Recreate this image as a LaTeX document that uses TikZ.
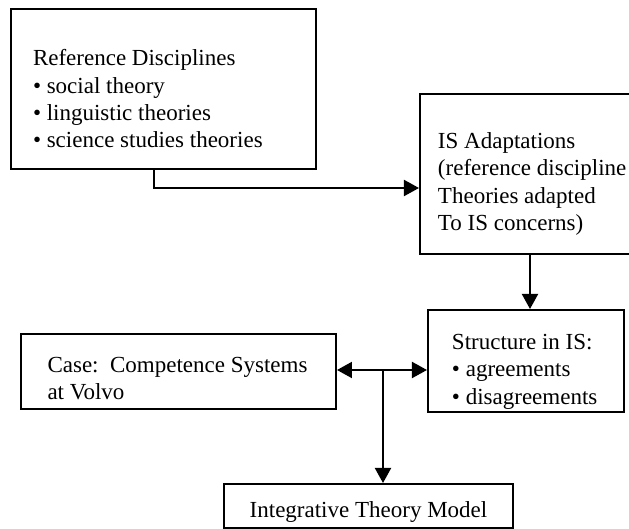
\documentclass[tikz,border=0pt]{standalone}
\usepackage{fontspec}
\setmainfont{Liberation Serif}
\usetikzlibrary{arrows.meta}
\newcommand{\lift}[1]{\rule{0pt}{#1}}
\tikzset{
    box/.style={draw,anchor=north west,inner sep=0pt,align=flush left,font=\fontsize{11.5}{13.7}\selectfont},
}
\begin{document}
\begin{tikzpicture}[x=0.5pt,y=-0.5pt,line width=1pt,>={Triangle[length=7.5pt,width=8pt]}]
    \useasboundingbox (0,0) rectangle (629,529);
    \clip (0,0) rectangle (629,529);
    \node[box,minimum width=152.5pt,minimum height=80pt,text width=130.5pt] (refdisc) at (10,8)
        {\lift{17.9pt}Reference Disciplines\\•~social theory\\•~linguistic theories\\•~science studies theories};
    \node[box,minimum width=120pt,minimum height=80pt,text width=102pt] (isadapt) at (419,93)
        {\lift{17.9pt}IS Adaptations\\\mbox{(reference discipline}\\Theories adapted\\To IS concerns)};
    \node[box,minimum width=98pt,minimum height=51pt,text width=74pt] (structure) at (427,309)
        {\lift{18.4pt}Structure in IS:\\•~agreements\\•~disagreements};
    \node[box,minimum width=157.5pt,minimum height=37.5pt,text width=131pt] (case) at (20,333)
        {\lift{14.4pt}\mbox{Case:\ \ Competence Systems}\\at Volvo};
    \node[box,align=flush center,minimum width=144.5pt,minimum height=22pt,text width=124pt] (model) at (223,483)
        {\lift{13.6pt}Integrative Theory Model};
    \coordinate (bend) at (154,188);
    \coordinate (split) at (383,370);
    \draw[->] (refdisc.south -| bend) |- (isadapt.west |- bend);
    \draw[->] ([xshift=2pt]structure.north |- isadapt.south) -- ([xshift=2pt]structure.north);
    \draw[<->] (case.east |- split) -- (structure.west |- split);
    \draw[->] (split) -- (split |- model.north);
\end{tikzpicture}
\end{document}
